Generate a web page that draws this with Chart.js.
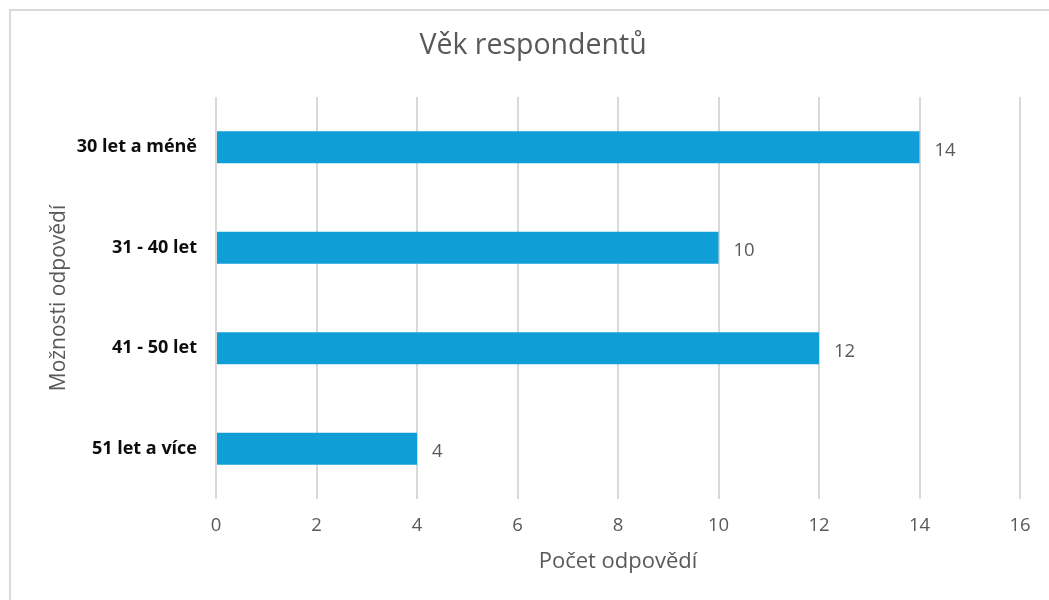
<!DOCTYPE html>
<html>
<head>
<meta charset="utf-8">
<script src="https://cdn.jsdelivr.net/npm/chart.js@4"></script>
<style>
  html, body { margin: 0; padding: 0; background: #ffffff; }
  #frame { position: absolute; left: 9px; top: 9px; width: 1100px; height: 650px; border: 2px solid #d9d9d9; }
  #chart { position: absolute; left: 0; top: 0; }
</style>
</head>
<body>
<div id="frame"></div>
<canvas id="chart" width="1049" height="600"></canvas>
<script>
  // chart data
  const chartTitle = 'Věk respondentů';
  const categories = ['30 let a méně', '31 - 40 let', '41 - 50 let', '51 let a více'];
  const counts = [14, 10, 12, 4];
  const xTicks = [0, 2, 4, 6, 8, 10, 12, 14, 16];

  const bar_color = '#0F9ED5';
  const text_gray = '#595959';
  const grid_color = '#d9d9d9';
  const font_family = '"Open Sans", sans-serif';

  // title drawn by hand so it can sit centred on the whole frame
  const frameTitle = {
    id: 'frameTitle',
    afterDraw(chart) {
      const ctx = chart.ctx;
      ctx.save();
      ctx.font = '28.5px ' + font_family;
      ctx.fillStyle = text_gray;
      ctx.textAlign = 'center';
      ctx.textBaseline = 'middle';
      ctx.fillText(chartTitle, 533, 46);
      ctx.restore();
    }
  };

  // value labels at the end of each bar
  const valueLabels = {
    id: 'valueLabels',
    afterDatasetsDraw(chart) {
      const ctx = chart.ctx;
      ctx.save();
      ctx.font = '18.5px ' + font_family;
      ctx.fillStyle = text_gray;
      ctx.textAlign = 'left';
      ctx.textBaseline = 'middle';
      chart.getDatasetMeta(0).data.forEach(function (bar, i) {
        ctx.fillText(String(counts[i]), bar.x + 15, bar.y + 3);
      });
      ctx.restore();
    }
  };

  new Chart(document.getElementById('chart'), {
    type: 'bar',
    data: {
      labels: categories,
      datasets: [{
        label: 'Počet odpovědí',
        data: counts,
        backgroundColor: bar_color,
        borderWidth: 0,
        barPercentage: 0.32,
        categoryPercentage: 1
      }]
    },
    options: {
      indexAxis: 'y',
      responsive: false,
      animation: false,
      layout: { padding: { left: 0, right: 29, top: 97, bottom: 0 } },
      plugins: {
        legend: { display: false },
        tooltip: { enabled: false },
        title: { display: false }
      },
      scales: {
        x: {
          min: 0,
          max: 16,
          afterBuildTicks: function (scale) {
            scale.ticks = xTicks.map(function (v) { return { value: v }; });
          },
          afterFit: function (scale) { scale.height = 101; },
          grid: { color: grid_color, lineWidth: 2, drawTicks: false },
          border: { display: false },
          ticks: {
            color: text_gray,
            padding: 16,
            font: { family: font_family, size: 18.5 }
          },
          title: {
            display: true,
            text: 'Počet odpovědí',
            color: text_gray,
            font: { family: font_family, size: 22 },
            padding: { top: 0, bottom: 25 }
          }
        },
        y: {
          afterFit: function (scale) { scale.width = 216; },
          grid: { display: false, drawTicks: false },
          border: { display: false },
          ticks: {
            color: '#0d0d0d',
            padding: 19,
            font: { family: font_family, size: 18, weight: 'bold' }
          },
          title: {
            display: true,
            text: 'Možnosti odpovědí',
            color: text_gray,
            font: { family: font_family, size: 21 },
            padding: { top: 46, bottom: 0 }
          }
        }
      }
    },
    plugins: [valueLabels, frameTitle]
  });
</script>
</body>
</html>
